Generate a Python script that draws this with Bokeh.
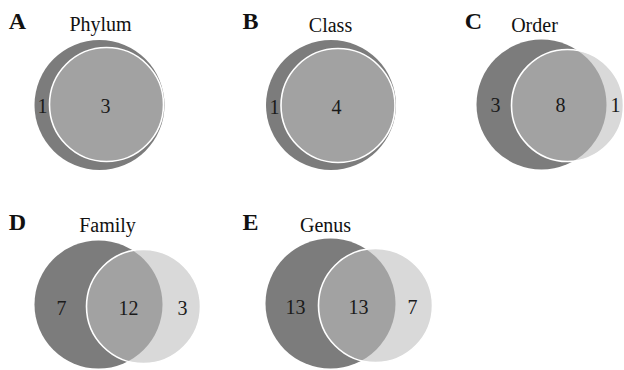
from bokeh.plotting import figure
from bokeh.models import Range1d, ColumnDataSource
from bokeh.core.properties import value
from bokeh.embed import file_html
from bokeh.resources import INLINE

# Shared taxa between the two samples at each taxonomic rank
panel_letters = ["A", "B", "C", "D", "E"]
ranks = ["Phylum", "Class", "Order", "Family", "Genus"]
only_first = [1, 1, 3, 7, 13]
shared = [3, 4, 8, 12, 13]
only_second = [0, 0, 1, 3, 7]

# Panel layout (pixel coordinates of each Venn diagram)
layout = [
    dict(letter=(17, 20), title=(100, 23), c1=(99, 104.5, 65), c2=(106, 104, 57),
         l1=42, l12=105, l2=None, ly=105),
    dict(letter=(250, 20), title=(330, 24), c1=(330.5, 104.5, 65), c2=(337.5, 105, 57),
         l1=274, l12=336, l2=None, ly=106),
    dict(letter=(473, 20), title=(534, 24), c1=(541, 104, 65), c2=(567, 105, 56),
         l1=495, l12=560, l2=615, ly=104),
    dict(letter=(17, 221), title=(107, 224), c1=(98, 304, 64), c2=(143, 306, 57),
         l1=61, l12=128, l2=182, ly=307),
    dict(letter=(250, 221), title=(325, 224), c1=(330, 303, 65), c2=(375, 305, 57),
         l1=295, l12=358, l2=412, ly=306),
]

W, H = 624, 370
p = figure(width=W, height=H, output_backend="svg", toolbar_location=None,
           x_range=Range1d(0, W), y_range=Range1d(H, 0), min_border=0)
p.axis.visible = False
p.grid.visible = False
p.outline_line_color = None
p.background_fill_color = "white"
p.border_fill_color = "white"

serif = value("Liberation Serif")

for i, lay in enumerate(layout):
    x1, y1, r1 = lay["c1"]
    x2, y2, r2 = lay["c2"]
    p.circle(x=[x1], y=[y1], radius=r1, fill_color="#7c7c7c", line_color=None)
    p.circle(x=[x2], y=[y2], radius=r2, fill_color="#bdbdbd", fill_alpha=0.58,
             line_color="white", line_width=1.6)

    texts, xs, ys = [], [], []
    texts.append(str(only_first[i])); xs.append(lay["l1"]); ys.append(lay["ly"])
    texts.append(str(shared[i])); xs.append(lay["l12"]); ys.append(lay["ly"])
    if only_second[i] > 0 and lay["l2"] is not None:
        texts.append(str(only_second[i])); xs.append(lay["l2"]); ys.append(lay["ly"])
    src = ColumnDataSource(dict(x=xs, y=ys, t=texts))
    p.text(x="x", y="y", text="t", source=src, text_font=serif,
           text_font_size="20px", text_color="#1a1a1a",
           text_align="center", text_baseline="middle")

    tx, ty = lay["title"]
    p.text(x=[tx], y=[ty], text=[ranks[i]], text_font=serif, text_font_size="20px",
           text_color="#111111", text_align="center", text_baseline="middle")
    lx, ly = lay["letter"]
    p.text(x=[lx], y=[ly], text=[panel_letters[i]], text_font=serif,
           text_font_size="24px", text_font_style="bold", text_color="#111111",
           text_align="center", text_baseline="middle")

open("out.html", "w").write(file_html(p, INLINE))
